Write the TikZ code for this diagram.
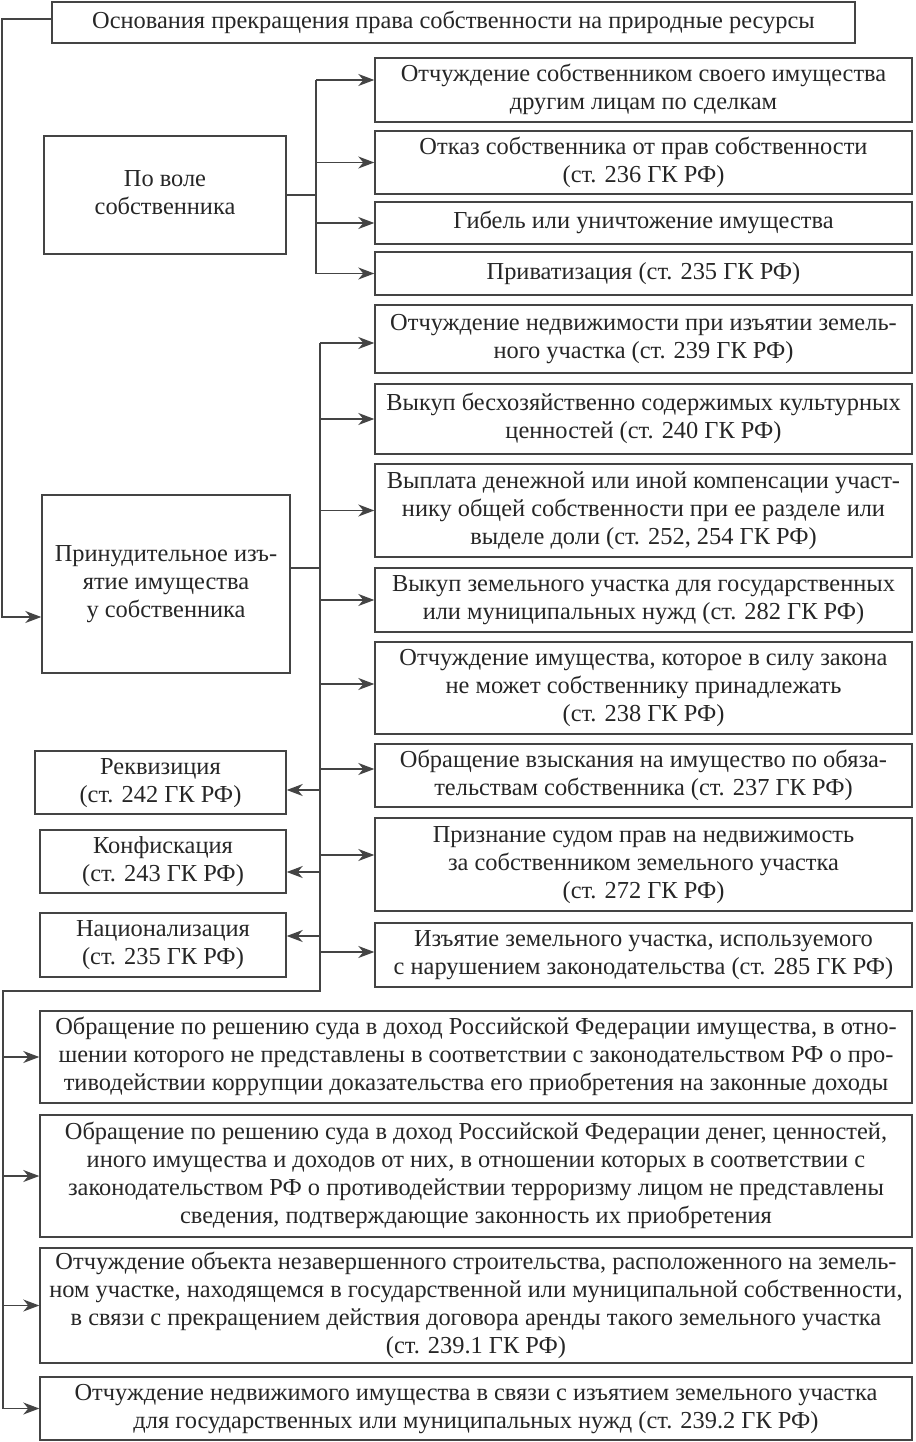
\documentclass[tikz,border=0pt]{standalone}
\usepackage{fontspec}
\setmainfont{Liberation Serif}
\usetikzlibrary{arrows.meta}
\definecolor{linec}{HTML}{444444}
\definecolor{textc}{HTML}{262626}
\tikzset{
  box/.style={draw=linec, line width=1.4pt, inner sep=0pt, align=center, text=textc,
    font=\fontsize{24.4}{28}\selectfont},
  conn/.style={draw=linec, line width=1.4pt},
  arr/.style={conn, -{Stealth[length=16pt,width=12pt,inset=5pt]}}
}
\newcommand{\bx}[6]{\node[box, minimum width=#4pt, minimum height=#5pt] (#1) at (#2,#3) {\raisebox{-2pt}{\begin{tabular}{@{}c@{}}#6\end{tabular}}};}
\begin{document}
\begin{tikzpicture}[x=1pt,y=-1pt]
\useasboundingbox (0,0) rectangle (915,1442);
\bx{top}{453.5}{22.5}{803}{41}{Основания прекращения права собственности на природные ресурсы}
\bx{vol}{165}{195}{242}{118}{По воле\\собственника}
\bx{r1}{643.5}{90}{537}{64}{Отчуждение собственником своего имущества\\другим лицам по сделкам}
\bx{r2}{643.5}{162.5}{537}{63}{Отказ собственника от прав собственности\\(ст. 236 ГК РФ)}
\bx{r3}{643.5}{223}{537}{42}{Гибель или уничтожение имущества}
\bx{r4}{643.5}{273.5}{537}{43}{Приватизация (ст. 235 ГК РФ)}
\bx{pr}{166}{584}{248}{178}{Принудительное изъ-\\ятие имущества\\у собственника}
\bx{rA}{643.5}{339}{537}{68}{Отчуждение недвижимости при изъятии земель-\\ного участка (ст. 239 ГК РФ)}
\bx{rB}{643.5}{419}{537}{70}{Выкуп бесхозяйственно содержимых культурных\\ценностей (ст. 240 ГК РФ)}
\bx{rC}{643.5}{510.5}{537}{93}{Выплата денежной или иной компенсации участ-\\нику общей собственности при ее разделе или\\выделе доли (ст. 252, 254 ГК РФ)}
\bx{rD}{643.5}{600}{537}{64}{Выкуп земельного участка для государственных\\или муниципальных нужд (ст. 282 ГК РФ)}
\bx{rE}{643.5}{688}{537}{92}{Отчуждение имущества, которое в силу закона\\не может собственнику принадлежать\\(ст. 238 ГК РФ)}
\bx{rF}{643.5}{775.5}{537}{63}{Обращение взыскания на имущество по обяза-\\тельствам собственника (ст. 237 ГК РФ)}
\bx{rG}{643.5}{864.5}{537}{93}{Признание судом прав на недвижимость\\за собственником земельного участка\\(ст. 272 ГК РФ)}
\bx{rH}{643.5}{955}{537}{64}{Изъятие земельного участка, используемого\\с нарушением законодательства (ст. 285 ГК РФ)}
\bx{rek}{160.5}{782.5}{251}{63}{Реквизиция\\(ст. 242 ГК РФ)}
\bx{kon}{163}{861.5}{246}{63}{Конфискация\\(ст. 243 ГК РФ)}
\bx{nat}{163}{945}{246}{64}{Национализация\\(ст. 235 ГК РФ)}
\bx{b1}{476}{1057}{872}{92}{Обращение по решению суда в доход Российской Федерации имущества, в отно-\\шении которого не представлены в соответствии с законодательством РФ о про-\\тиводействии коррупции доказательства его приобретения на законные доходы}
\bx{b2}{476}{1176}{872}{122}{Обращение по решению суда в доход Российской Федерации денег, ценностей,\\иного имущества и доходов от них, в отношении которых в соответствии с\\законодательством РФ о противодействии терроризму лицом не представлены\\сведения, подтверждающие законность их приобретения}
\bx{b3}{476}{1305.5}{872}{115}{Отчуждение объекта незавершенного строительства, расположенного на земель-\\ном участке, находящемся в государственной или муниципальной собственности,\\в связи с прекращением действия договора аренды такого земельного участка\\(ст. 239.1 ГК РФ)}
\bx{b4}{476}{1408.5}{872}{63}{Отчуждение недвижимого имущества в связи с изъятием земельного участка\\для государственных или муниципальных нужд (ст. 239.2 ГК РФ)}

% buses
\coordinate (outer) at (2,300);
\coordinate (bus1) at (316,197);
\coordinate (bus2) at (320,600);
\coordinate (c2) at (320,991);
\coordinate (c3) at (3,991);

% outer connector
\coordinate (tin) at ([yshift=3.5pt]top.west);
\coordinate (prin) at ([yshift=-33pt]pr.west);
\draw[arr] (tin) -| (outer) |- (prin);

% group 1
\coordinate (t1) at ([yshift=10pt]r1.west);
\draw[conn] (vol.east) -- (vol.east -| bus1);
\draw[conn] (t1 -| bus1) -- (r4.west -| bus1);
\draw[arr] (t1 -| bus1) -- (t1);
\draw[arr] (r2.west -| bus1) -- (r2.west);
\draw[arr] (r3.west -| bus1) -- (r3.west);
\draw[arr] (r4.west -| bus1) -- (r4.west);

% group 2
\coordinate (prout) at ([yshift=16pt]pr.east);
\coordinate (tA) at ([yshift=-4pt]rA.west);
\coordinate (tE) at ([yshift=4pt]rE.west);
\coordinate (tF) at ([yshift=6.5pt]rF.west);
\coordinate (tG) at ([yshift=9.5pt]rG.west);
\coordinate (tH) at ([yshift=3pt]rH.west);
\coordinate (trek) at ([yshift=-7.5pt]rek.east);
\coordinate (tkon) at ([yshift=-10.5pt]kon.east);
\coordinate (tnat) at ([yshift=9pt]nat.east);
\draw[conn] (prout) -- (prout -| bus2);
\draw[conn] (tA -| bus2) -- (c2) -- (c3) -- (b4.west -| c3);
\draw[arr] (tA -| bus2) -- (tA);
\draw[arr] (rB.west -| bus2) -- (rB.west);
\draw[arr] (rC.west -| bus2) -- (rC.west);
\draw[arr] (rD.west -| bus2) -- (rD.west);
\draw[arr] (tE -| bus2) -- (tE);
\draw[arr] (tF -| bus2) -- (tF);
\draw[arr] (tG -| bus2) -- (tG);
\draw[arr] (tH -| bus2) -- (tH);
\draw[arr] (trek -| bus2) -- (trek);
\draw[arr] (tkon -| bus2) -- (tkon);
\draw[arr] (tnat -| bus2) -- (tnat);

% bottom group
\draw[arr] (b1.west -| c3) -- (b1.west);
\draw[arr] (b2.west -| c3) -- (b2.west);
\draw[arr] (b3.west -| c3) -- (b3.west);
\draw[arr] (b4.west -| c3) -- (b4.west);
\end{tikzpicture}
\end{document}
